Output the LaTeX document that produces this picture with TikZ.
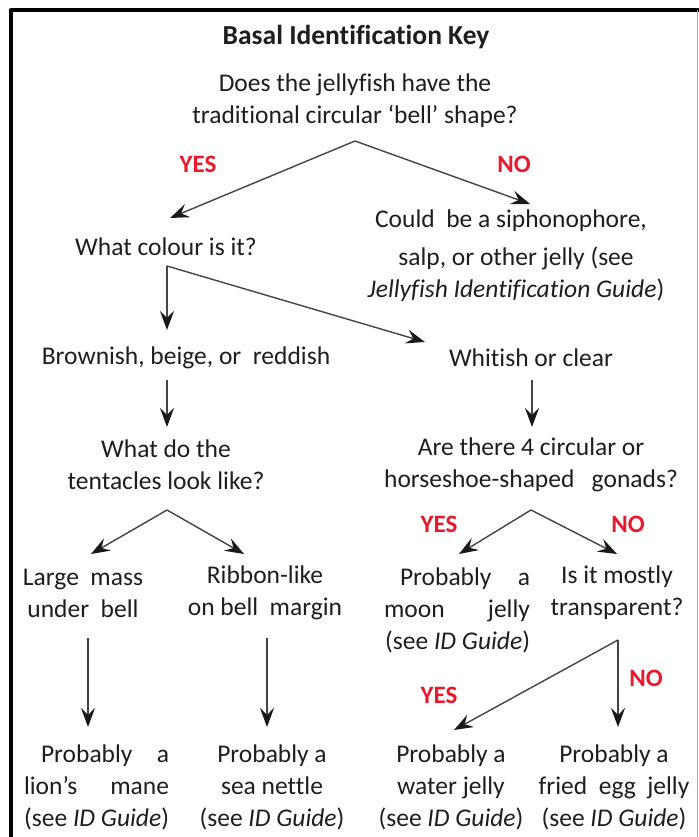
\documentclass[tikz,border=0pt]{standalone}
\usepackage{fontspec}
\setmainfont{Carlito}[Ligatures=NoCommon]
\usetikzlibrary{arrows.meta}
\definecolor{txt}{HTML}{1E1E1E}
\definecolor{lbl}{HTML}{E8192C}
\definecolor{ln}{HTML}{444444}
\begin{document}
\begin{tikzpicture}[x=1pt,y=-1pt,
  every node/.style={inner sep=0pt, outer sep=0pt, text=txt, font=\fontsize{25.5}{32}\selectfont},
  txtbox/.style={align=center},
  rbox/.style={align=right, anchor=east},
  yn/.style={font=\fontsize{25}{30}\selectfont\bfseries, text=lbl},
  arr/.style={draw=ln, line width=1.4pt, -{Stealth[length=19pt,width=14pt,inset=7pt,color=black!90]}}]
\useasboundingbox (0,0) rectangle (698,837);
\fill[white] (0,0) rectangle (698,837);
\draw[line width=4pt, line join=round] (11,840) -- (11,10) -- (700,10);
\draw[black!35, line width=1pt] (697.5,10) -- (697.5,840);

% texts
\node (title) at (356,37) {\fontsize{27.5}{32}\selectfont\bfseries Basal Identification Key};
\node[txtbox] (q1) at (355,101) {Does the jellyfish have the\\traditional circular ‘bell’ shape?};
\node[yn] (yes1) at (198,164) {YES};
\node[yn] (no1) at (514,164) {NO};
\node (colour) at (166,247) {What colour is it?};
\node[txtbox] (siph) at (516,256) {Could\ \ be a siphonophore,\hspace*{10pt}\\[6pt]salp, or other jelly (see\\[0pt]\textit{Jellyfish Identification Guide})};
\node (brown) at (186,358) {Brownish, beige, or\ \ reddish};
\node (white) at (531,358) {Whitish or clear};
\node[txtbox] (tent) at (166,465) {What do the\\tentacles look like?};
\node[txtbox] (gonad) at (531,465) {Are there 4 circular or\\horseshoe-shaped\ \ \ gonads?};
\node[yn] (yes2) at (439,524) {YES};
\node[yn] (no2) at (628,524) {NO};
\node[txtbox] (large) at (83,593) {Large\ \ mass\\under\ \ bell};
\node[txtbox] (ribbon) at (265,593) {Ribbon-like\\on bell\ \ margin};
\node[rbox] (moon) at (530,610) {\makebox[130pt][s]{Probably\hfill a}\\\makebox[146pt][s]{moon\hfill jelly}\\(see \textit{ID Guide})};
\node[txtbox] (mostly) at (617,593) {Is it mostly\\transparent?};
\node[yn] (yes3) at (439,695) {YES};
\node[yn] (no3) at (646,678) {NO};
\node[rbox] (lion) at (169,787) {\makebox[128pt][s]{Probably\hfill a}\\\makebox[145pt][s]{lion’s\hfill mane}\\(see \textit{ID Guide})};
\node[txtbox] (nettle) at (272,787) {Probably a\\sea nettle\\(see \textit{ID Guide})};
\node[txtbox] (water) at (451,787) {Probably a\\water jelly\\(see \textit{ID Guide})};
\node[txtbox] (fried) at (614,787) {Probably a\\fried\ \ egg\ \ jelly\\(see \textit{ID Guide})};

% connectors
\coordinate (j1) at (355,141);
\coordinate (t1a) at (170,218);
\coordinate (t1b) at (530,204);
\draw[arr] (j1) -- (t1a);
\draw[arr] (j1) -- (t1b);
\coordinate (j2) at (167,266);
\coordinate (t2a) at (167,330);
\coordinate (t2b) at (425,342);
\draw[arr] (j2) -- (t2a);
\draw[arr] (j2) -- (t2b);
\coordinate (j3a) at (167,380);
\coordinate (t3a) at (167,427);
\coordinate (j3b) at (532,380);
\coordinate (t3b) at (532,427);
\draw[arr] (j3a) -- (t3a);
\draw[arr] (j3b) -- (t3b);
\coordinate (j4) at (167,510);
\coordinate (t4a) at (91,554);
\coordinate (t4b) at (244,554);
\draw[arr] (j4) -- (t4a);
\draw[arr] (j4) -- (t4b);
\coordinate (j5) at (531,510);
\coordinate (t5a) at (459,554);
\coordinate (t5b) at (617,554);
\draw[arr] (j5) -- (t5a);
\draw[arr] (j5) -- (t5b);
\coordinate (j6a) at (88,638);
\coordinate (t6a) at (88,727);
\coordinate (j6b) at (267,638);
\coordinate (t6b) at (267,727);
\draw[arr] (j6a) -- (t6a);
\draw[arr] (j6b) -- (t6b);
\coordinate (j7) at (618,640);
\coordinate (t7a) at (454,730);
\coordinate (t7b) at (618,727);
\draw[arr] (j7) -- (t7a);
\draw[arr] (j7) -- (t7b);
\end{tikzpicture}
\end{document}
